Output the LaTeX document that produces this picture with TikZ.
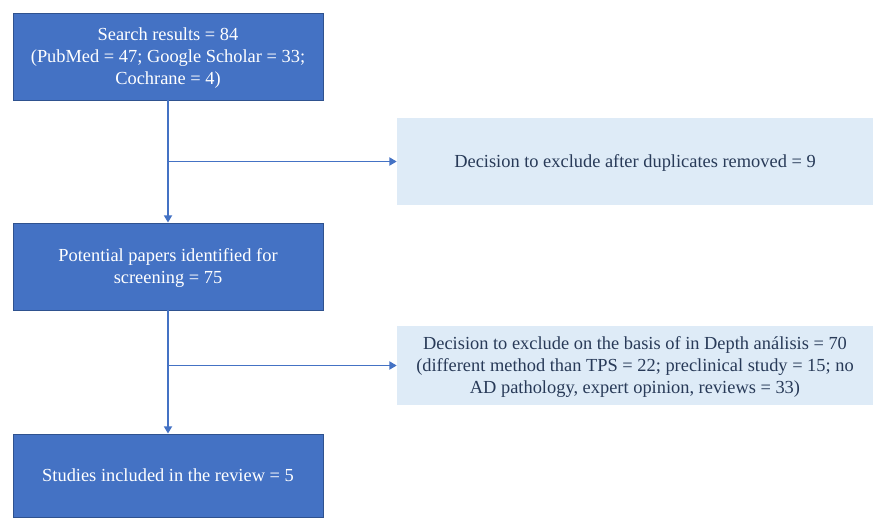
\documentclass[tikz,border=0pt]{standalone}
\usepackage{fontspec}
\setmainfont{Liberation Serif}
\usetikzlibrary{arrows.meta}
\definecolor{boxblue}{RGB}{68, 114, 196}
\definecolor{edgeblue}{RGB}{47, 82, 143}
\definecolor{paleblue}{RGB}{222, 235, 247}
\definecolor{textblue}{RGB}{40, 58, 88}

\begin{document}
\begin{tikzpicture}[x=0.75pt, y=-0.75pt,
    mainbox/.style={draw=edgeblue, line width=0.6pt, fill=boxblue, text=white,
      minimum width=232.5pt, minimum height=65.25pt, inner sep=0pt, align=center,
      text depth=0pt, font=\fontsize{13.8}{16.5}\selectfont},
    sidebox/.style={fill=paleblue, text=textblue,
      minimum width=357pt, minimum height=65.25pt, inner sep=0pt, align=center,
      text depth=0pt, font=\fontsize{13.8}{16.5}\selectfont},
    flow/.style={draw=boxblue, line width=1.4pt, -{Triangle[length=5.5pt,width=6pt]}}]
    \useasboundingbox (0,0) rectangle (873,517);
    % left column
    \node[mainbox] (search) at (168,56.5) {Search results = 84\\(PubMed = 47; Google Scholar = 33;\\Cochrane = 4)};
    \node[mainbox] (screen) at (168,266.5) {Potential papers identified for\\screening = 75};
    \node[mainbox, minimum height=62.25pt] (incl) at (168,475.5) {Studies included in the review = 5};
    % exclusions
    \node[sidebox] (dupl) at (635,161.5) {Decision to exclude after duplicates removed = 9};
    \node[sidebox, minimum height=59.25pt] (depth) at (635,365.5) {Decision to exclude on the basis of in Depth análisis = 70\\(different method than TPS = 22; preclinical study = 15; no\\AD pathology, expert opinion, reviews = 33)};
    \coordinate (j1) at (search.south |- dupl.west);
    \coordinate (j2) at (screen.south |- depth.west);
    \draw[flow] (search.south) -- (screen.north);
    \draw[flow] (j1) -- (dupl.west);
    \draw[flow] (screen.south) -- (incl.north);
    \draw[flow] (j2) -- (depth.west);
  \end{tikzpicture}
\end{document}
